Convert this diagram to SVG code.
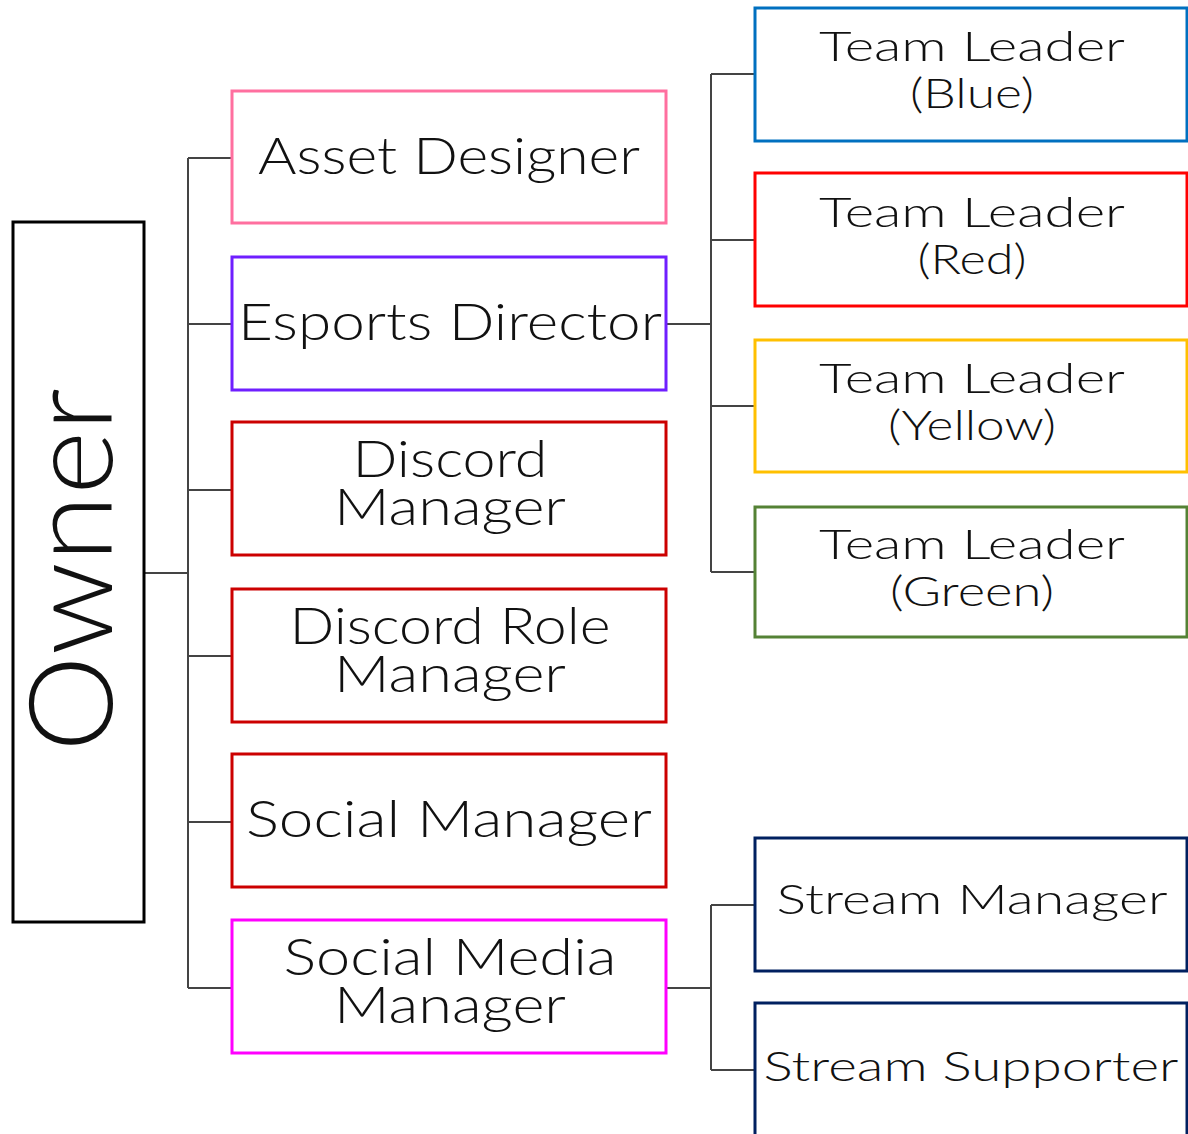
<svg xmlns="http://www.w3.org/2000/svg" width="1188" height="1134" viewBox="0 0 1188 1134">
  <style>
    .box { fill: #ffffff; stroke-width: 3; }
    .lbl { font-family: "Lato", "Noto Sans", sans-serif; font-weight: 300; fill: #111111; text-anchor: middle; }
    .mid { font-size: 51px; }
    .side { font-size: 42px; }
    .conn { fill: none; stroke: #444444; stroke-width: 2; }
  </style>
  <rect width="1188" height="1134" fill="#ffffff"/>

  <!-- connectors -->
  <g id="connectors" class="conn">
    <path d="M144 573 H188"/>
    <path d="M188 158 V988"/>
    <path d="M188 158 H232 M188 324 H232 M188 490 H232 M188 656 H232 M188 822 H232 M188 988 H232"/>
    <path d="M666 324 H711"/>
    <path d="M711 74 V572"/>
    <path d="M711 74 H755 M711 240 H755 M711 406 H755 M711 572 H755"/>
    <path d="M666 988 H711"/>
    <path d="M711 905 V1070"/>
    <path d="M711 905 H755 M711 1070 H755"/>
  </g>

  <g id="owner">
    <rect class="box" x="13" y="222" width="131" height="700" stroke="#000000"/>
    <text class="lbl" font-size="116" transform="translate(112 570) rotate(-90)" textLength="364" lengthAdjust="spacingAndGlyphs">Owner</text>
  </g>

  <g id="asset-designer">
    <rect class="box" x="232" y="91" width="434" height="132" stroke="#ff6f9f"/>
    <text class="lbl mid" x="449" y="174" textLength="382" lengthAdjust="spacingAndGlyphs">Asset Designer</text>
  </g>
  <g id="esports-director">
    <rect class="box" x="232" y="257" width="434" height="133" stroke="#6f1fff"/>
    <text class="lbl mid" x="450" y="340" textLength="424" lengthAdjust="spacingAndGlyphs">Esports Director</text>
  </g>
  <g id="discord-manager">
    <rect class="box" x="232" y="422" width="434" height="133" stroke="#cc0000"/>
    <text class="lbl mid" x="450" y="477" textLength="195" lengthAdjust="spacingAndGlyphs">Discord</text>
    <text class="lbl mid" x="450" y="525" textLength="232" lengthAdjust="spacingAndGlyphs">Manager</text>
  </g>
  <g id="discord-role-manager">
    <rect class="box" x="232" y="589" width="434" height="133" stroke="#cc0000"/>
    <text class="lbl mid" x="450" y="644" textLength="321" lengthAdjust="spacingAndGlyphs">Discord Role</text>
    <text class="lbl mid" x="450" y="692" textLength="232" lengthAdjust="spacingAndGlyphs">Manager</text>
  </g>
  <g id="social-manager">
    <rect class="box" x="232" y="754" width="434" height="133" stroke="#cc0000"/>
    <text class="lbl mid" x="449" y="837" textLength="406" lengthAdjust="spacingAndGlyphs">Social Manager</text>
  </g>
  <g id="social-media-manager">
    <rect class="box" x="232" y="920" width="434" height="133" stroke="#ff00ff"/>
    <text class="lbl mid" x="450" y="975" textLength="333" lengthAdjust="spacingAndGlyphs">Social Media</text>
    <text class="lbl mid" x="450" y="1023" textLength="232" lengthAdjust="spacingAndGlyphs">Manager</text>
  </g>

  <g id="team-leader-blue">
    <rect class="box" x="755" y="8" width="432" height="133" stroke="#0070c0"/>
    <text class="lbl side" x="972" y="61" textLength="306" lengthAdjust="spacingAndGlyphs">Team Leader</text>
    <text class="lbl side" x="972" y="108" textLength="124" lengthAdjust="spacingAndGlyphs">(Blue)</text>
  </g>
  <g id="team-leader-red">
    <rect class="box" x="755" y="173" width="432" height="133" stroke="#ff0000"/>
    <text class="lbl side" x="972" y="227" textLength="306" lengthAdjust="spacingAndGlyphs">Team Leader</text>
    <text class="lbl side" x="972" y="274" textLength="109" lengthAdjust="spacingAndGlyphs">(Red)</text>
  </g>
  <g id="team-leader-yellow">
    <rect class="box" x="755" y="340" width="432" height="132" stroke="#ffc000"/>
    <text class="lbl side" x="972" y="393" textLength="306" lengthAdjust="spacingAndGlyphs">Team Leader</text>
    <text class="lbl side" x="972" y="440" textLength="168" lengthAdjust="spacingAndGlyphs">(Yellow)</text>
  </g>
  <g id="team-leader-green">
    <rect class="box" x="755" y="507" width="432" height="130" stroke="#548235"/>
    <text class="lbl side" x="972" y="559" textLength="306" lengthAdjust="spacingAndGlyphs">Team Leader</text>
    <text class="lbl side" x="972" y="606" textLength="164" lengthAdjust="spacingAndGlyphs">(Green)</text>
  </g>
  <g id="stream-manager">
    <rect class="box" x="755" y="838" width="432" height="133" stroke="#002060"/>
    <text class="lbl side" x="972" y="914" textLength="391" lengthAdjust="spacingAndGlyphs">Stream Manager</text>
  </g>
  <g id="stream-supporter">
    <rect class="box" x="755" y="1003" width="432" height="140" stroke="#002060"/>
    <text class="lbl side" x="971" y="1081" textLength="415" lengthAdjust="spacingAndGlyphs">Stream Supporter</text>
  </g>
</svg>
